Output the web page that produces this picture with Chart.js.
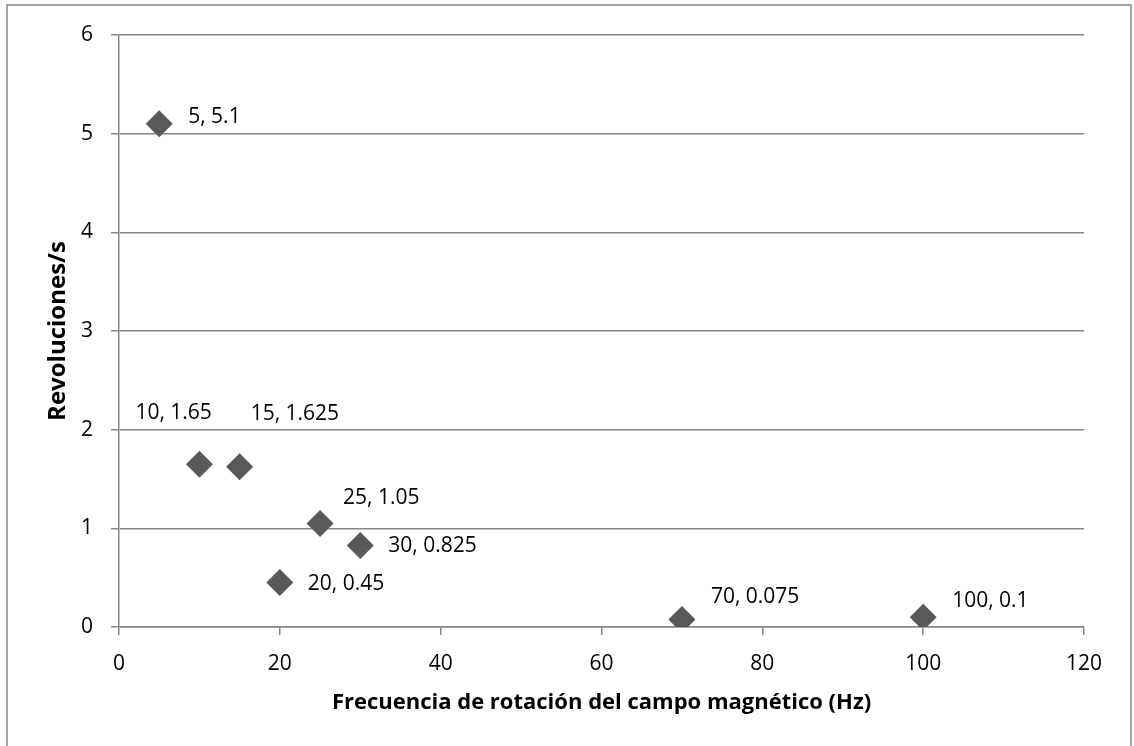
<!DOCTYPE html>
<html>
<head>
<meta charset="utf-8">
<script src="https://cdn.jsdelivr.net/npm/chart.js@4/dist/chart.umd.min.js"></script>
<style>
  html, body { margin: 0; padding: 0; background: #fff; }
  #wrap { width: 1134px; height: 746px; position: relative; }
</style>
</head>
<body>
<div id="wrap"><canvas id="chart"></canvas></div>
<script>
// Data
const freqHz = [5, 10, 15, 20, 25, 30, 70, 100];
const revsPerSec = [5.1, 1.65, 1.625, 0.45, 1.05, 0.825, 0.075, 0.1];
const pointLabels = ['5, 5.1', '10, 1.65', '15, 1.625', '20, 0.45', '25, 1.05', '30, 0.825', '70, 0.075', '100, 0.1'];

// Label offsets (px) relative to each marker, as placed in the original
const labelOffsets = [
    [29, -7], [-64, -51], [11, -53], [28, 1], [23, -25], [28, 0], [29, -23], [29, -16]
];

const FONT = '"Open Sans", Lato, sans-serif';
const GRID = '#868686';

const pointLabelPlugin = {
    id: 'pointLabels',
    afterDatasetsDraw(chart) {
        const ctx = chart.ctx;
        const meta = chart.getDatasetMeta(0);
        ctx.save();
        ctx.font = '21px ' + FONT;
        ctx.fillStyle = '#000';
        ctx.textAlign = 'left';
        ctx.textBaseline = 'middle';
        meta.data.forEach((pt, i) => {
            const [dx, dy] = labelOffsets[i];
            ctx.fillText(pointLabels[i], pt.x + dx, pt.y + dy);
        });
        ctx.restore();
    }
};

// outer chart frame (its bottom edge falls outside the picture)
const frameBorder = {
    id: 'frameBorder',
    beforeDraw(chart) {
        const ctx = chart.ctx;
        ctx.save();
        ctx.fillStyle = '#fff';
        ctx.fillRect(0, 0, chart.width, chart.height);
        ctx.strokeStyle = GRID;
        ctx.lineWidth = 1.5;
        ctx.strokeRect(7, 5, 1124, 760);
        ctx.restore();
    }
};

new Chart(document.getElementById('chart'), {
    type: 'scatter',
    data: {
        datasets: [{
            data: freqHz.map((x, i) => ({ x: x, y: revsPerSec[i] })),
            pointStyle: 'rectRot',
            pointRadius: 13.5,
            pointHoverRadius: 13.5,
            backgroundColor: '#595959',
            borderColor: '#595959',
            borderWidth: 0
        }]
    },
    options: {
        responsive: true,
        maintainAspectRatio: false,
        animation: false,
        layout: { padding: { left: 0, top: 35, right: 50, bottom: 0 } },
        plugins: {
            legend: { display: false },
            tooltip: { enabled: false }
        },
        scales: {
            x: {
                type: 'linear',
                min: 0,
                max: 120,
                ticks: { stepSize: 20, color: '#000', font: { family: FONT, size: 21 }, padding: 16, maxRotation: 0 },
                grid: { display: true, drawOnChartArea: false, drawTicks: true, tickLength: 8, color: GRID, lineWidth: 1.5 },
                border: { display: true, color: GRID, width: 1.5 },
                title: {
                    display: true,
                    text: 'Frecuencia de rotación del campo magnético (Hz)',
                    color: '#000',
                    font: { family: FONT, size: 22, weight: 'bold' },
                    padding: { top: 0, bottom: 30 }
                },
                afterFit(scale) { scale.height = 119; }
            },
            y: {
                type: 'linear',
                min: 0,
                max: 6,
                ticks: { stepSize: 1, color: '#000', font: { family: FONT, size: 21 }, padding: 18 },
                grid: { display: true, drawTicks: true, tickLength: 8, color: GRID, lineWidth: 1.5 },
                border: { display: true, color: GRID, width: 1.5 },
                title: {
                    display: true,
                    text: 'Revoluciones/s',
                    color: '#000',
                    font: { family: FONT, size: 24, weight: 'bold' },
                    padding: { top: 44, bottom: 0 }
                },
                afterFit(scale) { scale.width = 119; }
            }
        }
    },
    plugins: [frameBorder, pointLabelPlugin]
});
</script>
</body>
</html>
